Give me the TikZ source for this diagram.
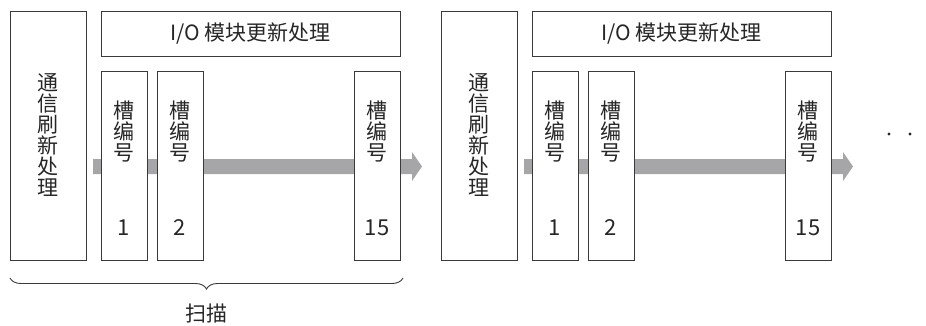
\documentclass[tikz,border=0pt]{standalone}
\usepackage{fontspec}
\setmainfont{Noto Sans CJK SC}
\usetikzlibrary{calc,decorations.pathreplacing}
\definecolor{linegray}{HTML}{3A3A3A}
\definecolor{arrowgray}{HTML}{A6A6A8}
\tikzset{
  box/.style={draw=linegray, line width=1pt, fill=white, inner sep=0pt},
  bigbox/.style={box, minimum width=76pt, minimum height=249pt},
  iobox/.style={box, minimum width=299pt, minimum height=45pt},
  slotbox/.style={box, minimum width=46pt, minimum height=189pt},
  vtext/.style={align=center, inner sep=0pt, text=black!85, font=\fontsize{21}{21}\selectfont},
  ltext/.style={inner sep=0pt, text=black!85, font=\fontsize{21}{21}\selectfont},
  numtext/.style={inner sep=0pt, text=black!85, font=\fontsize{22}{22}\selectfont},
  bigarrow/.style={fill=arrowgray},
  dot/.style={fill=black!85}
}
\begin{document}
\begin{tikzpicture}[x=1pt,y=-1pt]
\useasboundingbox (0,0) rectangle (926,325);
\foreach \g/\dx in {1/0,2/431}{
  % arrow (behind)
  \coordinate (as\g) at (93+\dx,166.5);
  \coordinate (ae\g) at (422+\dx,166.5);
  \fill[bigarrow] ($(as\g)+(0,-7.5)$) -- ($(ae\g)+(-10,-7.5)$) -- ($(ae\g)+(-10,-14.5)$)
     -- (ae\g) -- ($(ae\g)+(-10,14.5)$) -- ($(ae\g)+(-10,7.5)$) -- ($(as\g)+(0,7.5)$) -- cycle;
  % communication refresh box
  \node[bigbox] (comm\g) at (48+\dx,135.5) {};
  \node[vtext] (commt\g) at (48+\dx,135) {通\\信\\刷\\新\\处\\理};
  % I/O box
  \node[iobox] (io\g) at (250.5+\dx,33.5) {};
  \node[ltext] (iot\g) at (250.5+\dx,33.5) {I/O 模块更新处理};
  % slots
  \foreach \s/\sx in {1/124,2/180,15/377}{
    \node[slotbox] (slot\g-\s) at (\sx+\dx,165.5) {};
    \node[vtext] (slott\g-\s) at (\sx+\dx,131.5) {槽\\编\\号};
    \node[numtext] (slotn\g-\s) at (\sx+\dx,228) {\s};
  }
}
% brace
\coordinate (b1) at (10,278);
\coordinate (b2) at (403,278);
\draw[linegray, line width=0.9pt, decorate, decoration={brace, mirror, amplitude=11pt}] (b1) -- (b2);
\node[ltext] (scan) at (206,313) {扫描};
% continuation dots
\fill[dot] (889,134) circle (1.6);
\fill[dot] (910,134) circle (1.6);
\end{tikzpicture}
\end{document}
